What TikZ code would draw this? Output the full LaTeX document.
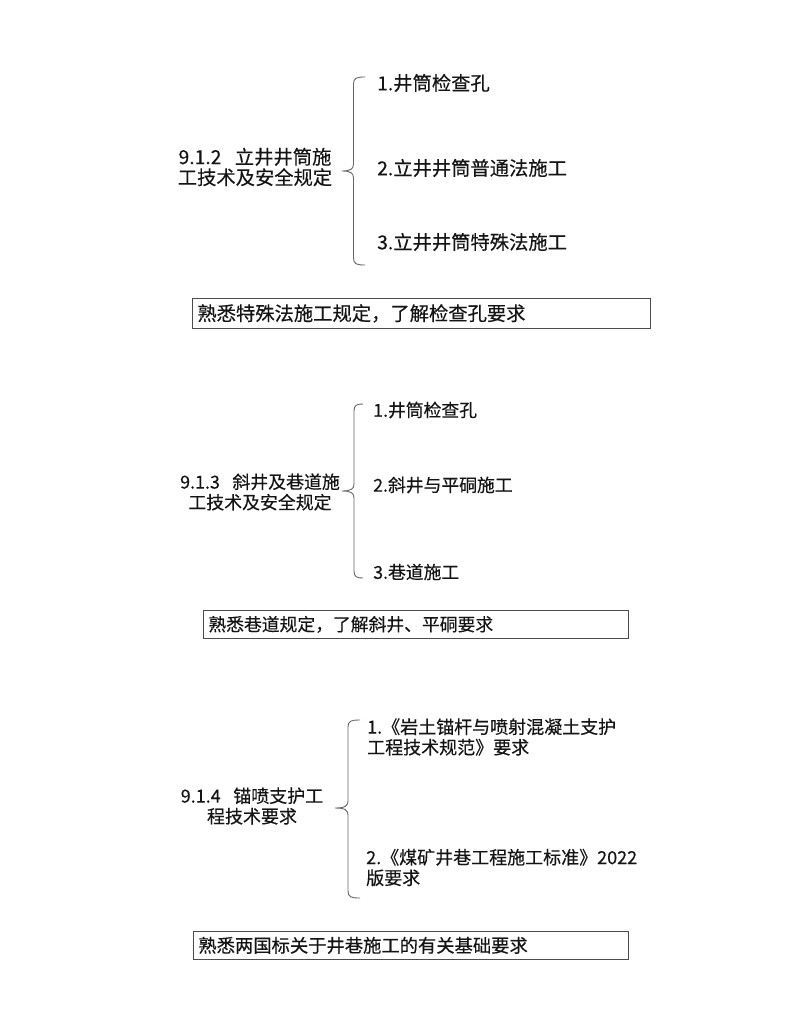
\documentclass[tikz,border=0pt]{standalone}
\usepackage{fontspec}
\newfontfamily\cjk[FakeBold=0.3]{Noto Sans CJK SC}
\newcommand\drawbrace[6]{% #1 x, #2 top, #3 bottom, #4 cusp y, #5 tip x, #6 tick end x
  \draw[bracestyle] (#6,#2) .. controls (#1+3,#2) and (#1,#2+1) .. (#1,#2+7)
    -- (#1,#4-7) .. controls (#1,#4-2) and (#1-3,#4) .. (#5,#4)
    .. controls (#1-3,#4) and (#1,#4+2) .. (#1,#4+7)
    -- (#1,#3-7) .. controls (#1,#3-1) and (#1+3,#3) .. (#6,#3);}
\begin{document}
\begin{tikzpicture}[x=1pt,y=-1pt,
  txt/.style={font=\cjk\fontsize{#1}{20.5}\selectfont, inner sep=0pt, text=black!92},
  item/.style={txt=#1, anchor=west, align=left},
  topic/.style={txt=#1, anchor=center, align=center},
  note/.style={txt=#1, draw=black!70, line width=0.8pt, anchor=north west, align=left,
    inner xsep=5pt, inner ysep=0pt},
  bracestyle/.style={draw=black!60, line width=0.9pt}]
\useasboundingbox[fill=white] (0,0) rectangle (800,1035);

% ---- Section 9.1.2
\node[topic=19.3] (t1) at (255,167) {9.1.2\hspace{0.7em}立井井筒施\\工技术及安全规定};
\drawbrace{353.5}{77}{265}{171}{342}{365}
\node[item=19.3] (a1) at (377,83) {1.井筒检查孔};
\node[item=19.3] (a2) at (377,168) {2.立井井筒普通法施工};
\node[item=19.3] (a3) at (377,242) {3.立井井筒特殊法施工};
\node[note=19.3, minimum width=458pt, minimum height=30pt, text width=448pt] (n1) at (192,298) {熟悉特殊法施工规定，了解检查孔要求};

% ---- Section 9.1.3
\node[topic=17.9] (t2) at (260,492) {9.1.3\hspace{0.7em}斜井及巷道施\\工技术及安全规定};
\drawbrace{354}{404}{578}{491}{342}{363}
\node[item=17.8] (b1) at (373,410) {1.井筒检查孔};
\node[item=17.8] (b2) at (373,485) {2.斜井与平硐施工};
\node[item=17.8] (b3) at (373,572) {3.巷道施工};
\node[note=17.8, minimum width=425pt, minimum height=28pt, text width=415pt] (n2) at (203,610) {熟悉巷道规定，了解斜井、平硐要求};

% ---- Section 9.1.4
\node[topic=18] (t3) at (252,806) {9.1.4\hspace{0.7em}锚喷支护工\\程技术要求};
\drawbrace{348}{720}{898}{808}{335}{360}
\node[item=18] (c1) at (367,737) {1.《岩土锚杆与喷射混凝土支护\\工程技术规范》要求};
\node[item=18] (c2) at (366,867.5) {2.《煤矿井巷工程施工标准》2022\\版要求};
\node[note=18.3, minimum width=435pt, minimum height=28pt, text width=425pt] (n3) at (193,931) {熟悉两国标关于井巷施工的有关基础要求};
\end{tikzpicture}
\end{document}
